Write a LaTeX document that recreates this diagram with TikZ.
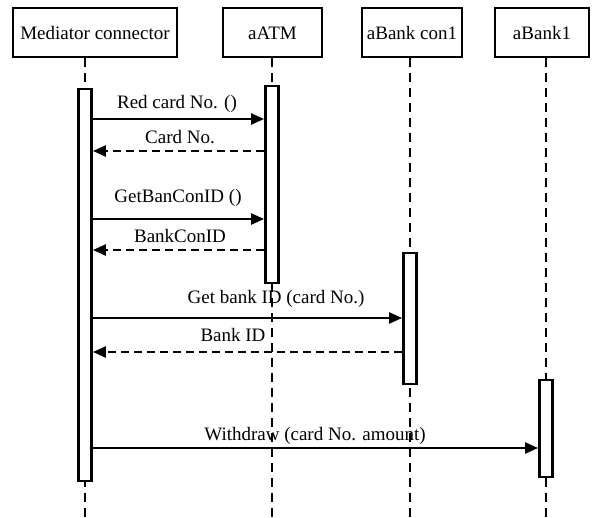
\documentclass[tikz,border=0pt]{standalone}
\usepackage{fontspec}
\setmainfont{Liberation Serif}
\usetikzlibrary{arrows.meta}
\begin{document}
\begin{tikzpicture}[x=1pt,y=-1pt,
  every node/.style={font=\fontsize{19}{22}\selectfont},
  headbox/.style={draw,line width=2.8pt,inner sep=0pt,minimum height=49pt},
  actbar/.style={draw,fill=white,line width=2.8pt,inner sep=0pt,minimum width=13pt},
  lifeline/.style={line width=2.6pt,dash pattern=on 9pt off 6pt},
  call/.style={line width=2.3pt,-{Triangle[length=13pt,width=11pt]}},
  reply/.style={line width=2.3pt,dash pattern=on 8pt off 5pt,-{Triangle[length=13pt,width=11pt]}},
  lbl/.style={anchor=base,inner sep=0pt}]
\useasboundingbox (0,0) rectangle (592,517);
% header boxes
\node[headbox,minimum width=164pt] (hM) at (95,32.5) {};
\node[headbox,minimum width=99pt] (hA) at (272.5,32.5) {};
\node[headbox,minimum width=100pt] (hB) at (412,32.5) {};
\node[headbox,minimum width=94pt] (hC) at (542,32.5) {};
\node[lbl] (tM) at (95,39) {Mediator connector};
\node[lbl] (tA) at (272.5,39) {aATM};
\node[lbl] (tB) at (412,39) {aBank con1};
\node[lbl] (tC) at (542,39) {aBank1};
% lifelines
\coordinate (eM) at (85,517);
\coordinate (eA) at (272,517);
\coordinate (eB) at (410,517);
\coordinate (eC) at (546,517);
\draw[lifeline] (hM.south -| eM) -- (eM);
\draw[lifeline] (hA.south -| eA) -- (eA);
\draw[lifeline] (hB.south -| eB) -- (eB);
\draw[lifeline] (hC.south -| eC) -- (eC);
% activation bars
\node[actbar,minimum height=392pt] (bM) at (85,285) {};
\node[actbar,minimum height=197pt] (bA) at (272,184.5) {};
\node[actbar,minimum height=131pt] (bB) at (410,318.5) {};
\node[actbar,minimum height=97pt] (bC) at (546,428.5) {};
% messages
\draw[call] (bM.east |- 0,119) -- (bA.west |- 0,119);
\node[lbl] (m1) at (177,108) {Red card No. ()};
\draw[reply] (bA.west |- 0,151) -- (bM.east |- 0,151);
\node[lbl] (m2) at (180,143) {Card No.};
\draw[call] (bM.east |- 0,219) -- (bA.west |- 0,219);
\node[lbl] (m3) at (178,202) {GetBanConID ()};
\draw[reply] (bA.west |- 0,250) -- (bM.east |- 0,250);
\node[lbl] (m4) at (180,242) {BankConID};
\draw[call] (bM.east |- 0,318) -- (bB.west |- 0,318);
\node[lbl] (m5) at (276,303) {Get bank ID (card No.)};
\draw[reply] (bB.west |- 0,352) -- (bM.east |- 0,352);
\node[lbl] (m6) at (233,341) {Bank ID};
\draw[call] (bM.east |- 0,448) -- (bC.west |- 0,448);
\node[lbl] (m7) at (315,440) {Withdraw (card No. amount)};
\end{tikzpicture}
\end{document}
